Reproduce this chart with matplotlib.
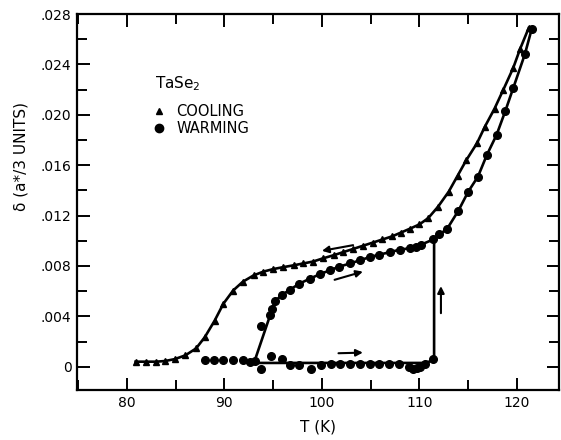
import matplotlib
matplotlib.use("Agg")
import matplotlib.pyplot as plt
from matplotlib.lines import Line2D
from matplotlib.ticker import MultipleLocator, FuncFormatter

plt.rcParams['font.family'] = ['DejaVu Sans']

# cooling run (triangles), delta in units of 1e-3
cool_T = [80.9, 82.0, 83.0, 83.9, 84.9, 86.0, 87.1, 88.0, 89.0, 89.9, 90.9,
          91.9, 93.0, 94.0, 95.0, 96.0, 97.1, 98.1, 99.1, 100.1, 101.2, 102.2,
          103.2, 104.2, 105.2, 106.2, 107.2, 108.1, 109.0, 110.0, 110.9, 111.9,
          113.0, 113.9, 114.8, 115.9, 116.7, 117.7, 118.6, 119.6, 120.3, 121.2]
cool_d = [0.40, 0.40, 0.40, 0.45, 0.60, 0.90, 1.45, 2.35, 3.65, 5.00, 6.05,
          6.75, 7.25, 7.55, 7.75, 7.90, 8.05, 8.20, 8.35, 8.60, 8.85, 9.10,
          9.35, 9.60, 9.85, 10.10, 10.35, 10.65, 10.95, 11.30, 11.80, 12.70,
          13.90, 15.15, 16.40, 17.75, 19.05, 20.50, 22.00, 23.70, 25.20, 26.90]

# warming run, upper branch (circles)
warm_T = [93.1, 94.7, 94.9, 95.2, 95.9, 96.7, 97.7, 98.8, 99.8, 100.8, 101.8,
          102.9, 103.9, 104.9, 105.9, 107.0, 108.0, 109.0, 109.6, 110.2, 111.4,
          112.0, 112.8, 114.0, 115.0, 116.0, 116.9, 117.9, 118.8, 119.6, 120.8,
          121.5]
warm_d = [0.45, 4.10, 4.60, 5.20, 5.70, 6.10, 6.60, 7.00, 7.35, 7.65, 7.95,
          8.20, 8.45, 8.70, 8.90, 9.10, 9.30, 9.40, 9.50, 9.70, 10.10,
          10.50, 10.90, 12.40, 13.90, 15.10, 16.80, 18.40, 20.30, 22.10, 24.80,
          26.80]

# warming run, points staying near zero
base_T = [88.0, 88.9, 89.9, 90.9, 91.9, 92.6, 93.8, 93.8, 94.8, 95.9, 96.7,
          97.7, 98.9, 99.9, 100.9, 101.9, 102.9, 103.9, 104.9, 105.9, 106.9,
          107.9, 108.9, 109.3, 109.7, 110.1, 110.6, 111.4]
base_d = [0.50, 0.50, 0.50, 0.50, 0.50, 0.40, 3.20, -0.15, 0.85, 0.65, 0.10,
          0.10, -0.20, 0.15, 0.25, 0.25, 0.25, 0.25, 0.25, 0.25, 0.25,
          0.20, 0.00, -0.15, -0.10, -0.05, 0.20, 0.60]

# drawn line of the zero branch and the jump at 111.5 K
jump_T = [92.4, 110.3, 111.0, 111.5, 111.5]
jump_d = [0.30, 0.30, 0.40, 0.60, 10.10]

# direction arrows: (T tail, d tail, T head, d head)
arrows = [(103.2, 9.65, 100.0, 9.20),
          (101.3, 6.90, 104.2, 7.55),
          (101.7, 1.07, 104.2, 1.12),
          (112.2, 4.25, 112.2, 6.40)]

x_ticks = [80, 90, 100, 110, 120]
y_ticks = [0, 0.004, 0.008, 0.012, 0.016, 0.020, 0.024, 0.028]


def scale(v):
    return [a * 1e-3 for a in v]


fig = plt.figure(figsize=(5.61, 4.40), dpi=100)
ax = fig.add_axes([0.1373, 0.1136, 0.8591, 0.8545])

ax.plot(cool_T, scale(cool_d), '-^', color='k', lw=1.9, ms=4)
ax.plot(warm_T, scale(warm_d), '-o', color='k', lw=1.9, ms=5.5)
ax.plot(jump_T, scale(jump_d), '-', color='k', lw=1.9)
ax.plot(base_T, scale(base_d), 'o', color='k', ms=5.5)

for t0, d0, t1, d1 in arrows:
    ax.annotate('', xy=(t1, d1 * 1e-3), xytext=(t0, d0 * 1e-3),
                arrowprops=dict(arrowstyle='-|>', color='k', lw=1.5,
                                mutation_scale=10, shrinkA=0, shrinkB=0))

ax.set_xlim(74.9, 124.3)
ax.set_ylim(-0.00185, 0.0280)
ax.set_xticks(x_ticks)
ax.set_yticks(y_ticks)
ax.xaxis.set_minor_locator(MultipleLocator(5))
ax.yaxis.set_minor_locator(MultipleLocator(0.002))


def fmt(v, pos):
    if abs(v) < 1e-9:
        return '0'
    return ('%.3f' % v).lstrip('0')


ax.yaxis.set_major_formatter(FuncFormatter(fmt))
ax.tick_params(which='both', direction='in', top=True, right=True,
               labelsize=10, width=1.4, pad=4)
ax.tick_params(which='major', length=9)
ax.tick_params(which='minor', length=7)
for s in ax.spines.values():
    s.set_linewidth(1.6)

ax.set_xlabel('T (K)', fontsize=11)
ax.set_ylabel('δ (a*/3 UNITS)', fontsize=11)
ax.xaxis.set_label_coords(0.5, -0.078)
ax.yaxis.set_label_coords(-0.1, 0.62)

# legend block
ax.text(0.162, 0.816, 'TaSe$_2$', transform=ax.transAxes, fontsize=11,
        ha='left', va='center')
handles = [Line2D([], [], marker='^', ls='none', color='k', ms=4),
           Line2D([], [], marker='o', ls='none', color='k', ms=6)]
leg = ax.legend(handles, ['COOLING', 'WARMING'],
                loc='upper left', bbox_to_anchor=(0.158, 0.76),
                frameon=False, fontsize=10.5,
                handlelength=0.8, handletextpad=0.8, labelspacing=0.15,
                borderpad=0, borderaxespad=0)

fig.savefig('out.png', dpi=100)
